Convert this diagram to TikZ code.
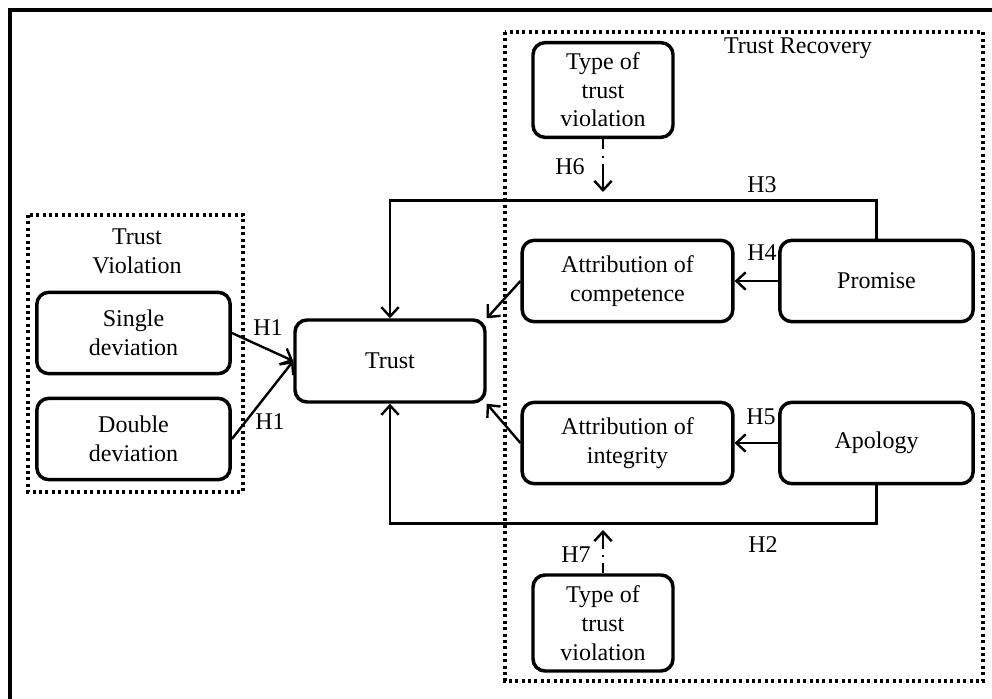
\documentclass[tikz,border=0pt]{standalone}
\usepackage{fontspec}
\setmainfont{Liberation Serif}
\usetikzlibrary{arrows.meta}
\begin{document}
\begin{tikzpicture}[x=0.75pt,y=0.75pt,yscale=-1,xscale=1,
    font=\fontsize{18}{21.5}\selectfont,
    box/.style={draw,line width=2.6pt,rounded corners=9pt,align=center,inner sep=2pt},
    grp/.style={line width=2.6pt,dash pattern=on 2.3pt off 2.5pt},
    arr/.style={line width=1.8pt,-{Straight Barb[length=7pt,width=13pt,line width=1.8pt]}},
    dasharr/.style={arr,dash pattern=on 7.5pt off 5pt on 1.5pt off 4.5pt on 30pt off 1pt},
    lbl/.style={inner sep=0.75pt}]
    \useasboundingbox (0,0) rectangle (992,699);
    %outer frame
    \draw [line width=2.4pt] (10,699) -- (10,10) -- (992,10);
    %group boxes
    \draw [grp] (28,215) rectangle (243,492);
    \draw [grp] (505,32) rectangle (983,681);
    % Text Node
    \node [lbl,align=center] (tvtitle) at (137,251) {Trust\\Violation};
    % Text Node
    \node [lbl] (trtitle) at (798,48) {Trust Recovery};
    %boxes
    \node [box,minimum width=145pt,minimum height=61pt] (single) at (133.5,333) {Single\\deviation};
    \node [box,minimum width=145pt,minimum height=61pt] (double) at (133.5,439) {Double\\deviation};
    \node [box,minimum width=142.5pt,minimum height=61.5pt] (trust) at (390,361) {Trust};
    \node [box,minimum width=105pt,minimum height=71pt] (typetop) at (603,90) {Type of\\trust\\violation};
    \node [box,minimum width=158pt,minimum height=61pt] (comp) at (627.5,281) {Attribution of\\competence};
    \node [box,minimum width=145pt,minimum height=61pt] (promise) at (876.5,281) {Promise};
    \node [box,minimum width=158pt,minimum height=61pt] (integ) at (627.5,443) {Attribution of\\integrity};
    \node [box,minimum width=145pt,minimum height=61pt] (apology) at (876.5,443) {Apology};
    \node [box,minimum width=105pt,minimum height=72pt] (typebot) at (603,623) {Type of\\trust\\violation};
    \coordinate (h6end) at (603,192);
    \coordinate (h7end) at (603,530);
    %connectors
    \draw [arr] (single.east) -- (trust.west);
    \draw [arr] (double.east) -- (trust.west);
    \draw [arr] (promise.north) -- ++(0,-38) -| (trust.north);
    \draw [arr] (apology.south) -- ++(0,38) -| (trust.south);
    \draw [arr] (promise.west) -- (comp.east);
    \draw [arr] (apology.west) -- (integ.east);
    \draw [arr] (comp.west) -- (trust.north east);
    \draw [arr] (integ.west) -- (trust.south east);
    \draw [dasharr] (typetop.south) -- (h6end);
    \draw [dasharr] (typebot.north) -- (h7end);
    % Text Node
    \node [lbl] (h1a) at (268,328) {H1};
    % Text Node
    \node [lbl] (h1b) at (270,422) {H1};
    % Text Node
    \node [lbl] (h3) at (762,185) {H3};
    % Text Node
    \node [lbl] (h4) at (762,253) {H4};
    % Text Node
    \node [lbl] (h5) at (761,417) {H5};
    % Text Node
    \node [lbl] (h2) at (763,545) {H2};
    % Text Node
    \node [lbl] (h6) at (570,167) {H6};
    % Text Node
    \node [lbl] (h7) at (576,555) {H7};
\end{tikzpicture}
\end{document}
